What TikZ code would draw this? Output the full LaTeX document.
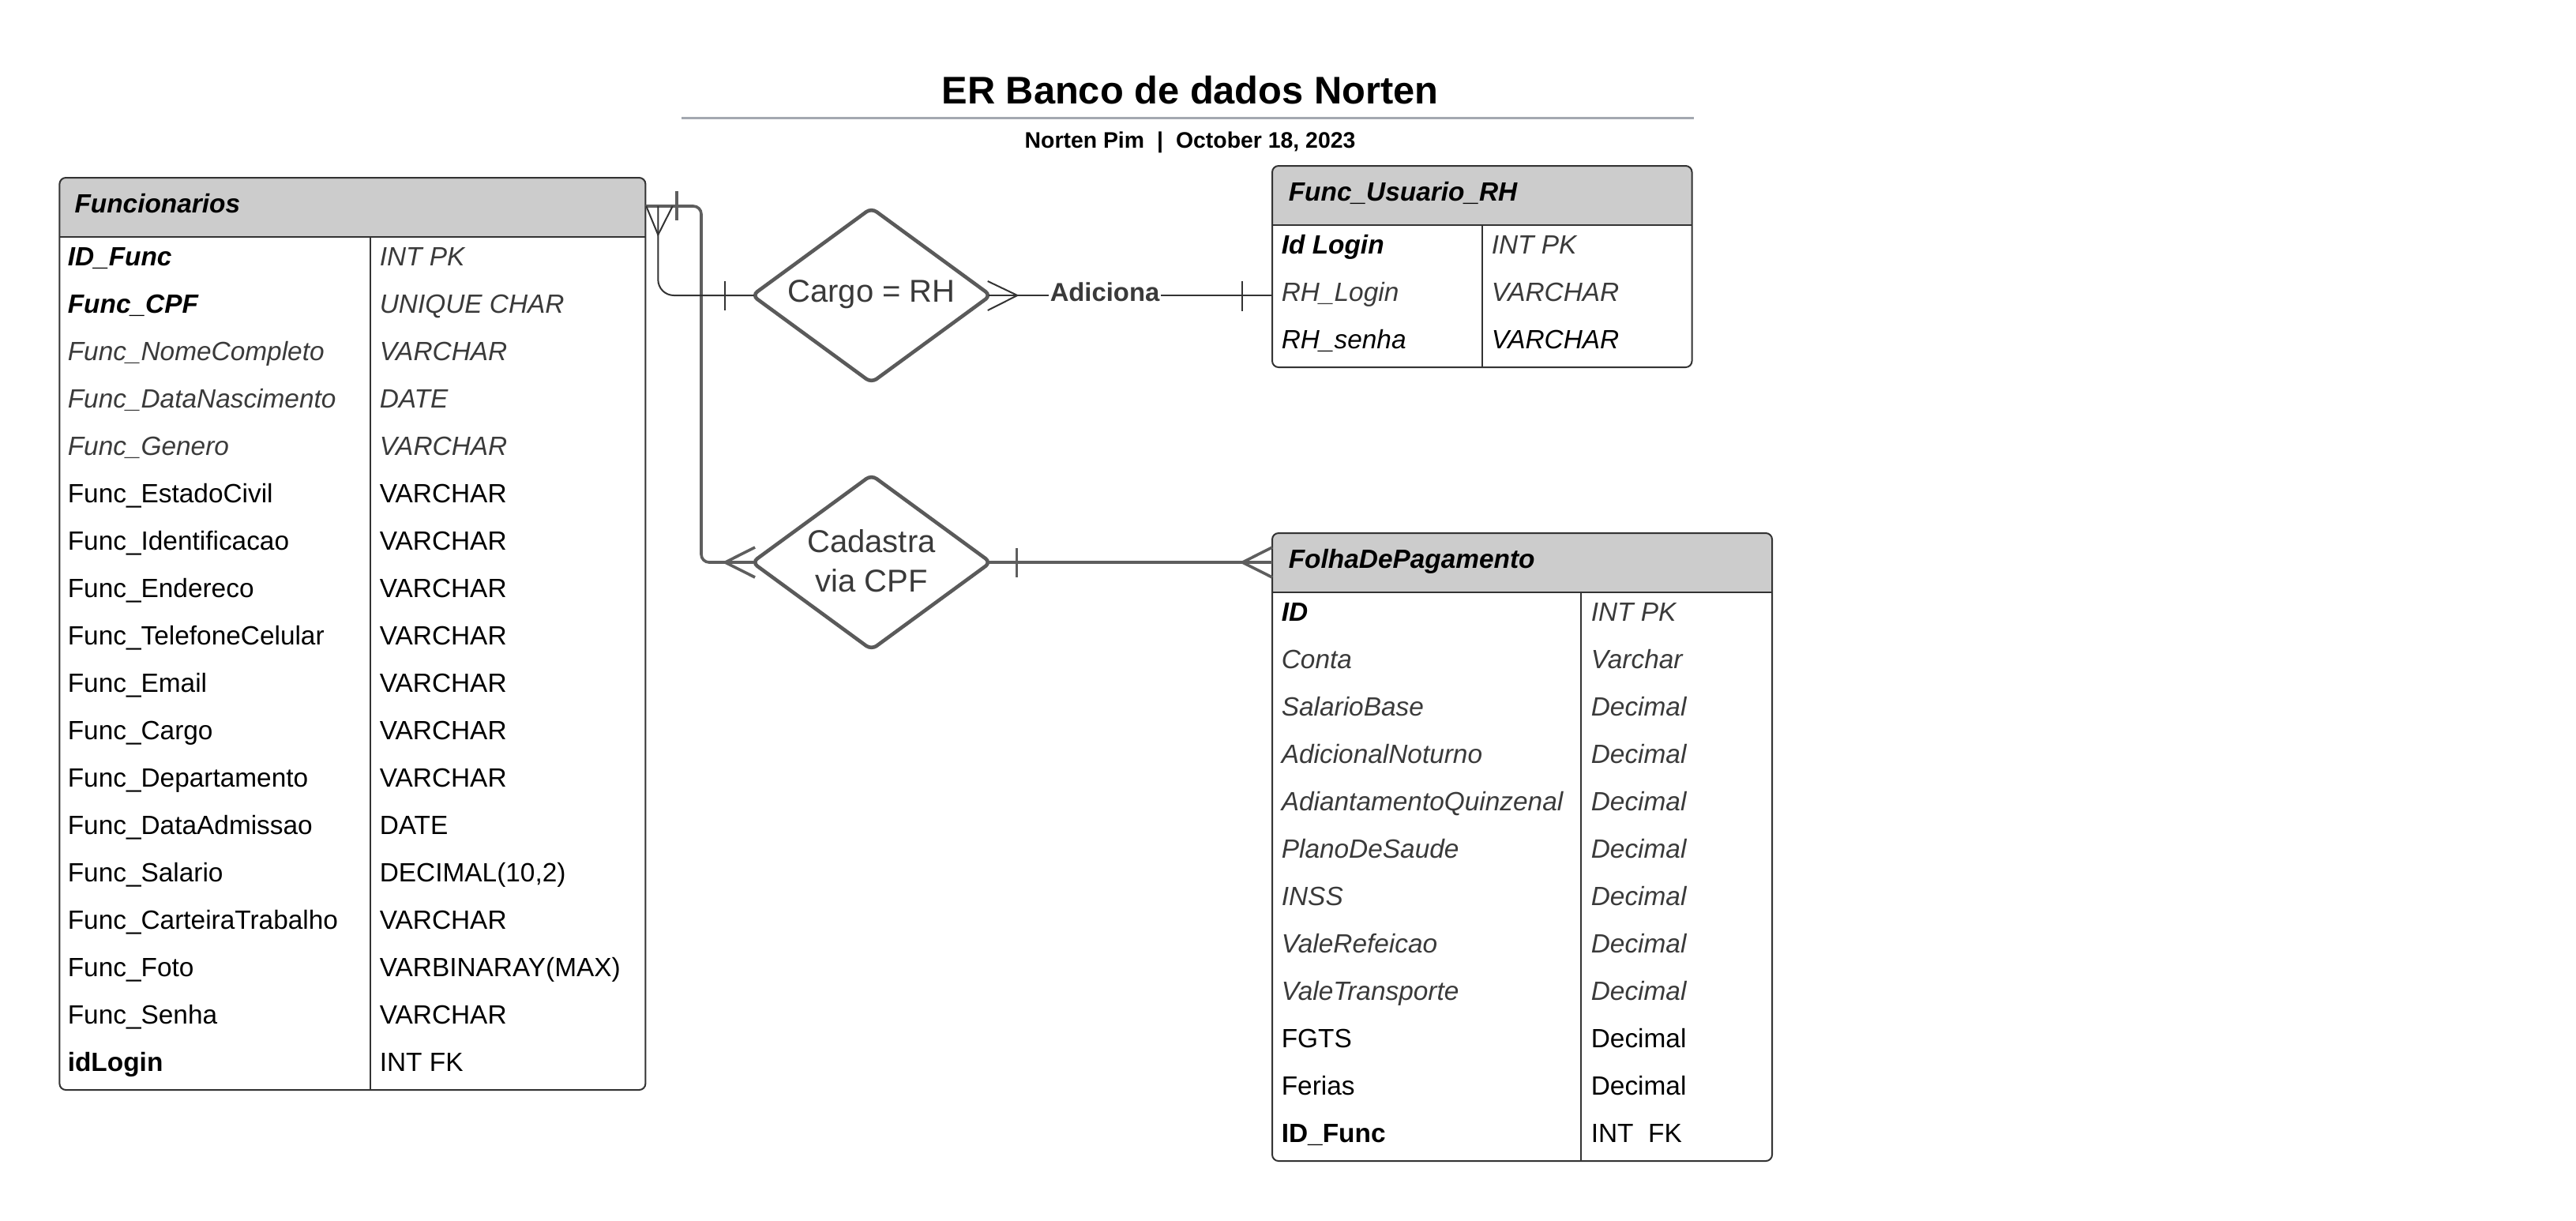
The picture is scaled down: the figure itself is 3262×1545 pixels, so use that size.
\documentclass[tikz,border=0pt]{standalone}
\usepackage{fontspec}
\setmainfont{Liberation Sans}
\usetikzlibrary{shapes.geometric}
\definecolor{bordercol}{HTML}{333333}
\definecolor{hdrfill}{HTML}{CCCCCC}
\definecolor{conndark}{HTML}{333333}
\definecolor{conngray}{HTML}{5E5E5E}
\definecolor{diamcol}{HTML}{5A5A5A}
\definecolor{txtgray}{HTML}{3A3A3A}
\definecolor{titleline}{HTML}{A3A8B0}
\newcommand\tabsz{\fontsize{8.35pt}{10pt}\selectfont}
\begin{document}
\begin{tikzpicture}[x=0.25pt,y=-0.25pt,
  tblframe/.style={draw=bordercol, line width=0.5pt, rounded corners=2pt, inner sep=0pt, outer sep=0pt},
  cellc/.style={anchor=base west, inner sep=0pt, font=\tabsz, text=black},
  pkc/.style={cellc, font=\tabsz\bfseries\itshape},
  igc/.style={cellc, font=\tabsz\itshape, text=txtgray},
  ibc/.style={cellc, font=\tabsz\itshape},
  rgc/.style={cellc},
  bdc/.style={cellc, font=\tabsz\bfseries},
  hdrc/.style={cellc, font=\tabsz\bfseries\itshape},
  reln/.style={diamond, draw=diamcol, line width=1.15pt, fill=white, rounded corners=2pt, inner sep=0pt, minimum width=76pt, minimum height=55.75pt},
  dtext/.style={font=\fontsize{10pt}{12.5pt}\selectfont, text=txtgray, inner sep=0pt},
  cthin/.style={draw=conndark, line width=0.5pt},
  cthick/.style={draw=conngray, line width=0.9pt},
  lbl/.style={font=\fontsize{8.2pt}{10pt}\selectfont\bfseries, text=txtgray, fill=white, inner xsep=0.4pt, inner ysep=1pt}
]
\useasboundingbox[fill=white] (0,0) rectangle (3262,1545);

% title
\node[anchor=base, inner sep=0pt, font=\fontsize{12.2pt}{14pt}\selectfont\bfseries] (title) at (1507,131) {ER Banco de dados Norten};
\draw[titleline, line width=0.75pt] (863,149.3) -- (2145,149.3);
\node[anchor=base, inner sep=0pt, font=\fontsize{7.1pt}{9pt}\selectfont\bfseries] (subtitle) at (1507,187.5) {Norten Pim\hspace{4pt}|\hspace{4pt}October 18, 2023};

% ---------- diamonds ----------
\node[reln] (cargo) at (1103.5,374) {};
\node[dtext, anchor=base] (cargoT) at (1103.5,382) {Cargo = RH};
\node[reln] (cad) at (1103.5,712) {};
\node[dtext, align=center, anchor=center] (cadT) at (1103.5,710) {Cadastra\\via CPF};

% ---------- Funcionarios ----------
\begin{scope}
\clip (75.4,225) rectangle (817.4,300);
\fill[hdrfill, rounded corners=2pt] (75.4,225) rectangle (817.4,340);
\end{scope}
\node[tblframe, minimum width=185.5pt, minimum height=288.75pt] (func) at (446.4,802.5) {};
\draw[bordercol, line width=0.6pt] (75.4,300) -- (817.4,300);
\draw[bordercol, line width=0.5pt] (469,300) -- (469,1380);
\node[hdrc] (funcH) at (93.7,269) {Funcionarios};
\foreach \i/\n/\ns/\t/\ts in {
 1/ID\_Func/pkc/INT PK/igc,
 2/Func\_CPF/pkc/UNIQUE CHAR/igc,
 3/Func\_NomeCompleto/igc/VARCHAR/igc,
 4/Func\_DataNascimento/igc/DATE/igc,
 5/Func\_Genero/igc/VARCHAR/igc,
 6/Func\_EstadoCivil/rgc/VARCHAR/rgc,
 7/Func\_Identificacao/rgc/VARCHAR/rgc,
 8/Func\_Endereco/rgc/VARCHAR/rgc,
 9/Func\_TelefoneCelular/rgc/VARCHAR/rgc,
 10/Func\_Email/rgc/VARCHAR/rgc,
 11/Func\_Cargo/rgc/VARCHAR/rgc,
 12/Func\_Departamento/rgc/VARCHAR/rgc,
 13/Func\_DataAdmissao/rgc/DATE/rgc,
 14/Func\_Salario/rgc/{DECIMAL(10,2)}/rgc,
 15/Func\_CarteiraTrabalho/rgc/VARCHAR/rgc,
 16/Func\_Foto/rgc/VARBINARAY(MAX)/rgc,
 17/Func\_Senha/rgc/VARCHAR/rgc,
 18/idLogin/bdc/INT FK/rgc}
{
 \node[\ns] (fn\i) at (85,{276.5+60*\i}) {\n};
 \node[\ts] (ft\i) at (480,{276.5+60*\i}) {\t};
}

% ---------- Func_Usuario_RH ----------
\begin{scope}
\clip (1611,210) rectangle (2142.5,285);
\fill[hdrfill, rounded corners=2pt] (1611,210) rectangle (2142.5,320);
\end{scope}
\node[tblframe, minimum width=132.875pt, minimum height=63.75pt] (rh) at (1876.75,337.5) {};
\draw[bordercol, line width=0.6pt] (1611,285) -- (2142.5,285);
\draw[bordercol, line width=0.5pt] (1877,285) -- (1877,465);
\node[hdrc] (rhH) at (1631,254) {Func\_Usuario\_RH};
\foreach \i/\n/\ns/\t/\ts in {
 1/Id Login/pkc/INT PK/igc,
 2/RH\_Login/igc/VARCHAR/igc,
 3/RH\_senha/ibc/VARCHAR/ibc}
{
 \node[\ns] (rn\i) at (1622,{261.5+60*\i}) {\n};
 \node[\ts] (rt\i) at (1888,{261.5+60*\i}) {\t};
}

% ---------- FolhaDePagamento ----------
\begin{scope}
\clip (1611,675) rectangle (2244,750);
\fill[hdrfill, rounded corners=2pt] (1611,675) rectangle (2244,790);
\end{scope}
\node[tblframe, minimum width=158.25pt, minimum height=198.75pt] (folha) at (1927.5,1072.5) {};
\draw[bordercol, line width=0.6pt] (1611,750) -- (2244,750);
\draw[bordercol, line width=0.5pt] (2002,750) -- (2002,1470);
\node[hdrc] (folhaH) at (1631,719) {FolhaDePagamento};
\foreach \i/\n/\ns/\t/\ts in {
 1/ID/pkc/INT PK/igc,
 2/Conta/igc/Varchar/igc,
 3/SalarioBase/igc/Decimal/igc,
 4/AdicionalNoturno/igc/Decimal/igc,
 5/AdiantamentoQuinzenal/igc/Decimal/igc,
 6/PlanoDeSaude/igc/Decimal/igc,
 7/INSS/igc/Decimal/igc,
 8/ValeRefeicao/igc/Decimal/igc,
 9/ValeTransporte/igc/Decimal/igc,
 10/FGTS/rgc/Decimal/rgc,
 11/Ferias/rgc/Decimal/rgc,
 12/ID\_Func/bdc/INT~~FK/rgc}
{
 \node[\ns] (pn\i) at (1622,{726.5+60*\i}) {\n};
 \node[\ts] (pt\i) at (2014,{726.5+60*\i}) {\t};
}

% ---------- connectors ----------
\coordinate (c1s) at (817.4,261);
\coordinate (c2s) at (833.3,261);
% Funcionarios -> Cadastra (thick gray)
\draw[cthick, rounded corners=2.5pt] (c1s) -- (888,261) -- (888,712) -- ([xshift=1.35pt]cad.west);
\draw[cthick] (856.7,242) -- (856.7,279);
\draw[cthick] (956,693) -- (918.3,712) -- (956,731);
% Funcionarios -> Cargo (thin dark)
\draw[cthin, rounded corners=5pt] (c2s) -- (833.3,374) -- ([xshift=1.35pt]cargo.west);
\draw[cthin] (818.3,261) -- (833.3,297.3) -- (851.7,261);
\draw[cthin] (917.7,356) -- (917.7,393);
% Cargo -> Func_Usuario_RH (thin dark)
\draw[cthin] ([xshift=-1.35pt]cargo.east) -- (cargo.east -| rh.west);
\draw[cthin] (1250.7,356) -- (1288.3,374) -- (1250.7,393);
\draw[cthin] (1573.3,356) -- (1573.3,394);
\node[lbl, anchor=base] (adiciona) at (1399,381.7) {Adiciona};
% Cadastra -> FolhaDePagamento (thick gray)
\draw[cthick] ([xshift=-1.35pt]cad.east) -- (cad.east -| folha.west);
\draw[cthick] (1287.3,694) -- (1287.3,731);
\draw[cthick] (1611,693) -- (1573.3,712) -- (1611,731);
\end{tikzpicture}
\end{document}
